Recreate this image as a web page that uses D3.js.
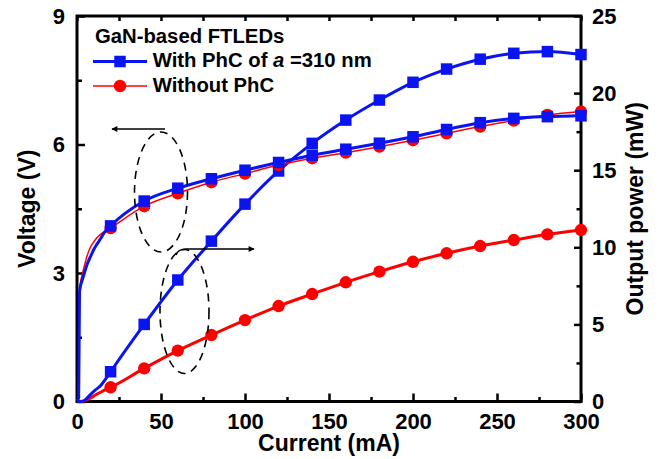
<!DOCTYPE html>
<html><head><meta charset="utf-8">
<script src="https://cdn.jsdelivr.net/npm/d3@7"></script>
<style>
html,body{margin:0;padding:0;background:#fff;}
svg text{font-family:"Liberation Sans",Arial,Helvetica,sans-serif;font-weight:bold;fill:#000;}
</style></head>
<body><svg id="c" width="659" height="459"></svg>
<script>
// ---- data ----
const current = [20,40,60,80,100,120,140,160,180,200,220,240,260,280,300];
const voltPhC = [4.10,4.68,4.98,5.20,5.40,5.58,5.75,5.89,6.03,6.18,6.35,6.51,6.61,6.65,6.67];
const voltNo  = [4.05,4.56,4.86,5.12,5.32,5.52,5.68,5.81,5.95,6.10,6.26,6.42,6.56,6.69,6.77];
const powPhC  = [1.93,5.00,7.88,10.40,12.80,14.95,16.74,18.25,19.55,20.70,21.56,22.20,22.58,22.69,22.50];
const powNo   = [0.92,2.15,3.30,4.31,5.28,6.19,6.97,7.73,8.42,9.06,9.61,10.08,10.47,10.84,11.12];
// low-current part of the measured curves (no markers)
const lowIV = [0,1.0,1.5,2,3,4,6,8,10,12,14,16,18];
const voltPhCLow = [0.02,0.08,2.55,2.68,2.82,2.95,3.20,3.38,3.55,3.68,3.80,3.93,4.02];
const voltNoLow  = [0.02,0.08,2.55,2.75,2.95,3.10,3.40,3.60,3.73,3.83,3.90,3.96,4.00];
const lowIP = [0,3,5,8,11,14,17];
const powPhCLow = [0,0.02,0.12,0.45,0.75,1.02,1.45];
const powNoLow  = [0,0,0.06,0.22,0.42,0.60,0.77];
const xTicks = [0,50,100,150,200,250,300];
const yLTicks = [0,3,6,9];
const yRTicks = [0,5,10,15,20,25];

const svg = d3.select("#c");
const L=77, R=581, T=16, B=401.5;
const x = d3.scaleLinear().domain([0,300]).range([L,R]);
const yL = d3.scaleLinear().domain([0,9]).range([B,T]);
const yR = d3.scaleLinear().domain([0,25]).range([B,T]);
const blue="#0a14f0", red="#ff0000";

function axisStyle(g){
  g.select(".domain").remove();
  g.selectAll("line").attr("stroke","#000").attr("stroke-width",2.5);
  g.selectAll("text").style("font-size","22px");
}
// minor ticks
svg.append("g").attr("transform",`translate(0,${B})`)
  .call(d3.axisBottom(x).tickValues(d3.range(25,300,50)).tickSize(-4.5).tickFormat("")).call(axisStyle);
svg.append("g").attr("transform",`translate(0,${T})`)
  .call(d3.axisTop(x).tickValues(d3.range(0,301,25)).tickSize(-5).tickFormat("")).call(axisStyle);
svg.append("g").attr("transform",`translate(${L},0)`)
  .call(d3.axisLeft(yL).tickValues([1.5,4.5,7.5]).tickSize(-5).tickFormat("")).call(axisStyle);
svg.append("g").attr("transform",`translate(${R},0)`)
  .call(d3.axisRight(yR).tickValues([2.5,7.5,12.5,17.5,22.5]).tickSize(-4.5).tickFormat("")).call(axisStyle);
// major
svg.append("g").attr("transform",`translate(0,${B})`)
  .call(d3.axisBottom(x).tickValues(xTicks).tickSize(-8).tickPadding(12)).call(axisStyle);
svg.append("g").attr("transform",`translate(${L},0)`)
  .call(d3.axisLeft(yL).tickValues(yLTicks).tickSize(-8).tickPadding(12)).call(axisStyle);
svg.append("g").attr("transform",`translate(${R},0)`)
  .call(d3.axisRight(yR).tickValues(yRTicks).tickSize(-7).tickPadding(11)).call(axisStyle);
// frame
svg.append("rect").attr("x",L).attr("y",T).attr("width",R-L).attr("height",B-T)
  .attr("fill","none").attr("stroke","#000").attr("stroke-width",3);

// titles
svg.append("text").attr("x",(L+R)/2).attr("y",451).attr("text-anchor","middle")
  .style("font-size","23px").text("Current (mA)");
svg.append("text").attr("transform",`translate(35,${(T+B)/2}) rotate(-90)`).attr("text-anchor","middle")
  .style("font-size","23px").text("Voltage (V)");
svg.append("text").attr("transform",`translate(642.5,${(T+B)/2}) rotate(-90)`).attr("text-anchor","middle")
  .style("font-size","23px").text("Output power (mW)");

// series
function series(lowI, lowV, vals, ys, color, lw, marker){
  const pts = lowI.map((d,i)=>[d,lowV[i]]).concat(current.map((d,i)=>[d,vals[i]]));
  const line = d3.line().x(d=>x(d[0])).y(d=>ys(d[1])).curve(d3.curveMonotoneX);
  svg.append("path").attr("d",line(pts)).attr("fill","none").attr("stroke",color)
    .attr("stroke-width",lw).attr("stroke-linejoin","round");
  const g = svg.append("g");
  if(marker==="circle"){
    g.selectAll("circle").data(current).join("circle")
      .attr("cx",d=>x(d)).attr("cy",(d,i)=>ys(vals[i])).attr("r",6.2).attr("fill",color);
  } else {
    const s=11.5;
    g.selectAll("rect").data(current).join("rect")
      .attr("x",d=>x(d)-s/2).attr("y",(d,i)=>ys(vals[i])-s/2).attr("width",s).attr("height",s).attr("fill",color);
  }
}
series(lowIP, powNoLow, powNo, yR, red, 3, "circle");
series(lowIP, powPhCLow, powPhC, yR, blue, 3, "square");
series(lowIV, voltNoLow, voltNo, yL, red, 1.5, "circle");
series(lowIV, voltPhCLow, voltPhC, yL, blue, 3, "square");

// annotations: dashed ellipses and arrows
svg.append("defs").append("marker").attr("id","ah").attr("viewBox","0 0 10 10")
  .attr("refX",9).attr("refY",5).attr("markerWidth",8).attr("markerHeight",6)
  .attr("markerUnits","userSpaceOnUse").attr("orient","auto")
  .append("path").attr("d","M0,0 L10,5 L0,10 z").attr("fill","#000");
svg.append("ellipse").attr("cx",161).attr("cy",192).attr("rx",26.5).attr("ry",60)
  .attr("fill","none").attr("stroke","#000").attr("stroke-width",1.6).attr("stroke-dasharray","8,6");
svg.append("ellipse").attr("cx",184.5).attr("cy",311.5).attr("rx",24.5).attr("ry",62)
  .attr("fill","none").attr("stroke","#000").attr("stroke-width",1.6).attr("stroke-dasharray","8,6");
svg.append("path").attr("d","M165,129 L112,129").attr("fill","none").attr("stroke","#000")
  .attr("stroke-width",1.5).attr("marker-end","url(#ah)");
svg.append("path").attr("d","M176,255 Q178,249 186,249 L254,249").attr("fill","none").attr("stroke","#000")
  .attr("stroke-width",1.5).attr("marker-end","url(#ah)");

// legend
svg.append("text").attr("x",95).attr("y",43).style("font-size","20.3px").text("GaN-based FTLEDs");
svg.append("line").attr("x1",93).attr("x2",147).attr("y1",61.5).attr("y2",61.5).attr("stroke",blue).attr("stroke-width",3);
svg.append("rect").attr("x",120-5.75).attr("y",61.5-5.75).attr("width",11.5).attr("height",11.5).attr("fill",blue);
const t1 = svg.append("text").attr("x",152.7).attr("y",66.7).style("font-size","20.3px");
t1.append("tspan").text("With PhC of ");
t1.append("tspan").style("font-style","italic").text("a");
t1.append("tspan").text(" =310 nm");
svg.append("line").attr("x1",93).attr("x2",147).attr("y1",86).attr("y2",86).attr("stroke",red).attr("stroke-width",1.5);
svg.append("circle").attr("cx",120).attr("cy",86).attr("r",6.2).attr("fill",red);
svg.append("text").attr("x",152.7).attr("y",91.6).style("font-size","20.3px").text("Without PhC");
</script></body></html>
